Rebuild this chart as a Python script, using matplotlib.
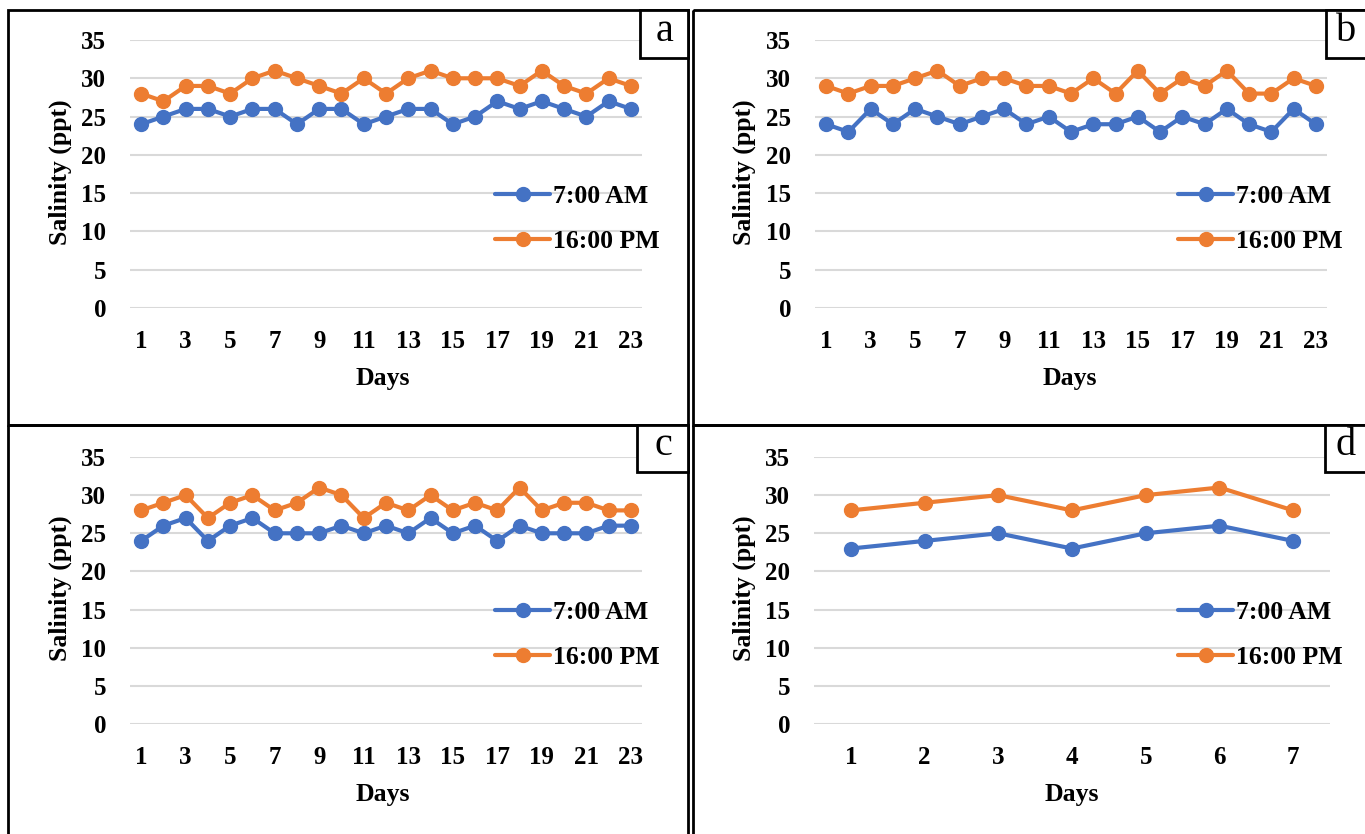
import matplotlib
matplotlib.use("Agg")
import matplotlib.pyplot as plt
from matplotlib.patches import Rectangle

plt.rcParams["font.family"] = ["Liberation Serif", "DejaVu Serif"]

W, H = 1365, 834

# ─── Data ─────────────────────────────────────────────────────────────────────
days_23 = list(range(1, 24))
days_7 = list(range(1, 8))

a_am = [24, 25, 26, 26, 25, 26, 26, 24, 26, 26, 24, 25, 26, 26, 24, 25, 27, 26, 27, 26, 25, 27, 26]
a_pm = [28, 27, 29, 29, 28, 30, 31, 30, 29, 28, 30, 28, 30, 31, 30, 30, 30, 29, 31, 29, 28, 30, 29]

b_am = [24, 23, 26, 24, 26, 25, 24, 25, 26, 24, 25, 23, 24, 24, 25, 23, 25, 24, 26, 24, 23, 26, 24]
b_pm = [29, 28, 29, 29, 30, 31, 29, 30, 30, 29, 29, 28, 30, 28, 31, 28, 30, 29, 31, 28, 28, 30, 29]

c_am = [24, 26, 27, 24, 26, 27, 25, 25, 25, 26, 25, 26, 25, 27, 25, 26, 24, 26, 25, 25, 25, 26, 26]
c_pm = [28, 29, 30, 27, 29, 30, 28, 29, 31, 30, 27, 29, 28, 30, 28, 29, 28, 31, 28, 29, 29, 28, 28]

d_am = [23, 24, 25, 23, 25, 26, 24]
d_pm = [28, 29, 30, 28, 30, 31, 28]

series_labels = ["7:00 AM", "16:00 PM"]
y_ticks = [0, 5, 10, 15, 20, 25, 30, 35]

BLUE = "#4472C4"
ORANGE = "#ED7D31"
GRID = "#d9d9d9"
FS = 18.5

fig = plt.figure(figsize=(W / 100, H / 100), dpi=100)

# overlay in pixel coordinates for frames and labels
ov = fig.add_axes([0, 0, 1, 1], zorder=5)
ov.set_xlim(0, W)
ov.set_ylim(H, 0)
ov.axis("off")


def px_axes(x0, y0, x1, y1):
    return fig.add_axes([x0 / W, 1 - y1 / H, (x1 - x0) / W, (y1 - y0) / H])


def draw_panel(box, days, am, pm, xticks, letter, frame, letter_box, ylab_x, days_xy, leg_xy):
    ax = px_axes(*box)
    ax.plot(days, am, color=BLUE, lw=3, marker="o", ms=10, label=series_labels[0],
            solid_capstyle="round", zorder=3, clip_on=False)
    ax.plot(days, pm, color=ORANGE, lw=3, marker="o", ms=10, label=series_labels[1],
            solid_capstyle="round", zorder=3, clip_on=False)
    ax.set_xlim(0.5, len(days) + 0.5)
    ax.set_ylim(0, 35)
    ax.set_yticks(y_ticks)
    ax.set_xticks(xticks)
    ax.grid(axis="y", color=GRID, lw=1.5, zorder=0)
    for s in ax.spines.values():
        s.set_visible(False)
    ax.tick_params(length=0, labelsize=FS - 0.5)
    ax.tick_params(axis="y", pad=17)
    ax.tick_params(axis="x", pad=16)
    for t in ax.get_xticklabels() + ax.get_yticklabels():
        t.set_fontweight("bold")

    ax.legend(loc="upper left", bbox_to_anchor=leg_xy, bbox_transform=ov.transData,
              frameon=False, borderaxespad=0, borderpad=0,
              handlelength=2.15, handletextpad=0.1, labelspacing=0.85,
              prop={"weight": "bold", "size": FS})

    # frame and letter box
    fx0, fy0, fx1, fy1 = frame
    ov.add_patch(Rectangle((fx0, fy0), fx1 - fx0, fy1 - fy0, fill=False, ec="black", lw=2))
    lx0, ly0, lx1, ly1 = letter_box
    ov.add_patch(Rectangle((lx0, ly0), lx1 - lx0, ly1 - ly0, fill=True, fc="white",
                           ec="black", lw=2))
    ov.text((lx0 + min(lx1, W)) / 2 + 1, (ly0 + ly1) / 2 - 3, letter, ha="center",
            va="center", fontsize=29)

    ov.text(ylab_x, (box[1] + box[3]) / 2 - 2, "Salinity (ppt)", rotation=90, ha="center",
            va="center", fontsize=FS, fontweight="bold")
    ov.text(days_xy[0], days_xy[1], "Days", ha="center", va="center", fontsize=FS,
            fontweight="bold")
    return ax


odd_ticks = list(range(1, 24, 2))

draw_panel((130, 40, 642, 308), days_23, a_am, a_pm, odd_ticks, "a",
           (8, 10, 688, 425), (640, 10, 688, 58), 60, (383, 378), (495, 185))
draw_panel((815, 40, 1327, 308), days_23, b_am, b_pm, odd_ticks, "b",
           (693, 10, 1372, 425), (1326, 10, 1372, 58), 744, (1070, 378), (1178, 185))
draw_panel((130, 457, 642, 724), days_23, c_am, c_pm, odd_ticks, "c",
           (8, 425, 688, 840), (637, 425, 688, 472), 60, (383, 795), (495, 601))
draw_panel((814, 457, 1330, 724), days_7, d_am, d_pm, days_7, "d",
           (693, 425, 1372, 840), (1325, 425, 1372, 472), 744, (1072, 795), (1178, 601))

fig.savefig("out.png", dpi=100)
